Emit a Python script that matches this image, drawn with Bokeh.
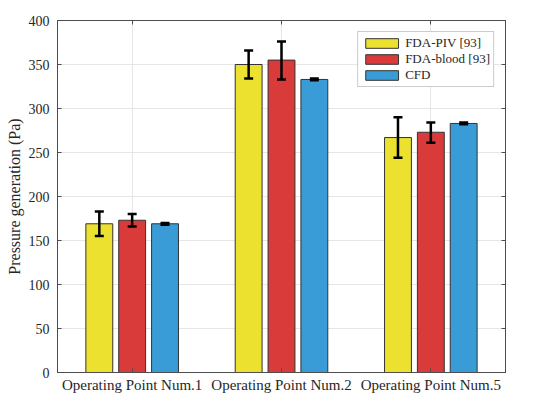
from bokeh.plotting import figure
from bokeh.models import (ColumnDataSource, FactorRange, Range1d, Whisker, TeeHead,
                          LinearAxis, CategoricalAxis, SingleIntervalTicker)
from bokeh.transform import dodge
from bokeh.embed import file_html
from bokeh.resources import INLINE

operating_points = ["Operating Point Num.1", "Operating Point Num.2", "Operating Point Num.5"]

piv = [169, 350, 267]
piv_upper = [183, 366, 290]
piv_lower = [155, 334, 244]

blood = [173, 355, 273]
blood_upper = [180, 376, 284]
blood_lower = [166, 333, 261]

cfd = [169, 333, 283]
cfd_upper = [170, 334, 284]
cfd_lower = [168, 332, 282]

series = [
    ("FDA-PIV [93]", piv, piv_upper, piv_lower, "#ECE12F", -0.22),
    ("FDA-blood [93]", blood, blood_upper, blood_lower, "#D83B3A", 0.0),
    ("CFD", cfd, cfd_upper, cfd_lower, "#3A9CD6", 0.22),
]

FONT = "Liberation Serif"
AXIS_COLOR = "#4d4d4d"
TEXT_COLOR = "#262626"

p = figure(width=521, height=396,
           x_range=FactorRange(*operating_points, range_padding=0),
           y_range=Range1d(0, 400),
           output_backend="svg",
           toolbar_location=None,
           min_border_left=57, min_border_right=16,
           min_border_top=20, min_border_bottom=24)

for name, vals, upper, lower, color, offset in series:
    src = ColumnDataSource(dict(op=operating_points, val=vals, upper=upper, lower=lower))
    p.vbar(x=dodge("op", offset, range=p.x_range), top="val", width=0.18, source=src,
           fill_color=color, line_color="#333333", line_width=1,
           legend_label=name)
    w = Whisker(base=dodge("op", offset, range=p.x_range), upper="upper", lower="lower",
                source=src, line_color="black", line_width=2.5, level="overlay",
                upper_head=TeeHead(size=9, line_width=2.5, line_color="black"),
                lower_head=TeeHead(size=9, line_width=2.5, line_color="black"))
    p.add_layout(w)

p.yaxis.ticker = SingleIntervalTicker(interval=50)
p.yaxis.axis_label = "Pressure generation (Pa)"
p.yaxis.axis_label_text_font = FONT
p.yaxis.axis_label_text_font_style = "normal"
p.yaxis.axis_label_text_font_size = "16px"
p.yaxis.axis_label_text_color = TEXT_COLOR
p.yaxis.axis_label_standoff = 3

for ax, size in [(p.xaxis[0], "15px"), (p.yaxis[0], "14px")]:
    ax.major_label_text_font = FONT
    ax.major_label_text_font_size = size
    ax.major_label_text_color = TEXT_COLOR
    ax.axis_line_color = AXIS_COLOR
    ax.major_tick_line_color = AXIS_COLOR
    ax.major_tick_in = 4
    ax.major_tick_out = 0
    ax.minor_tick_line_color = None
    ax.major_label_standoff = 4

# box around the plot like the original, ticks only
right = LinearAxis(ticker=SingleIntervalTicker(interval=50))
top = CategoricalAxis()
for ax in [right, top]:
    ax.major_label_text_font_size = "1px"
    ax.major_label_text_color = None
    ax.major_label_standoff = 0
    ax.axis_line_color = AXIS_COLOR
    ax.major_tick_line_color = AXIS_COLOR
    ax.major_tick_in = 4
    ax.major_tick_out = 0
    ax.minor_tick_line_color = None
p.add_layout(right, "right")
p.add_layout(top, "above")

p.xgrid.grid_line_color = "#e6e6e6"
p.ygrid.grid_line_color = "#e6e6e6"
p.outline_line_color = AXIS_COLOR

p.legend.location = "top_right"
p.legend.label_text_font = FONT
p.legend.label_text_font_size = "13px"
p.legend.label_text_color = TEXT_COLOR
p.legend.glyph_width = 41
p.legend.glyph_height = 12
p.legend.label_height = 12
p.legend.spacing = 0
p.legend.padding = 3
p.legend.margin = 11
p.legend.label_standoff = 3
p.legend.border_line_color = "#999999"
p.legend.border_line_width = 1.5

open("out.html", "w").write(file_html(p, INLINE))
